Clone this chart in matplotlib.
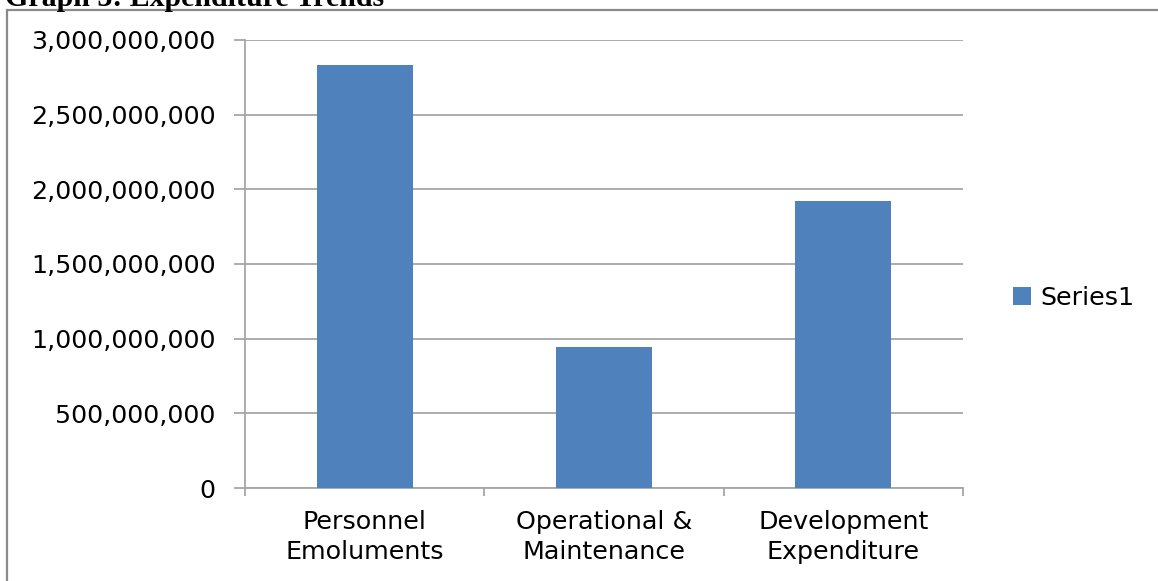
import matplotlib
matplotlib.use("Agg")
import matplotlib.pyplot as plt
from matplotlib.patches import Rectangle
from matplotlib.ticker import FuncFormatter, FixedLocator

categories = ["Personnel\nEmoluments", "Operational &\nMaintenance", "Development\nExpenditure"]
values = [2830000000, 945000000, 1920000000]
series_name = "Series1"
title = "Graph 3: Expenditure Trends"
yticks = [0, 500000000, 1000000000, 1500000000, 2000000000, 2500000000, 3000000000]

W, H = 1158, 581
fig = plt.figure(figsize=(W / 100, H / 100), dpi=100)
fig.patch.set_facecolor("white")

# outer chart border (top and left visible)
fig.patches.append(Rectangle((7 / W, -0.1), 1.2, 1 - 10 / H + 0.1, transform=fig.transFigure,
                             fill=False, edgecolor="#8a8a8a", linewidth=1.6))

fig.text(5 / W, 1 - 6 / H, title, family="Liberation Serif", fontweight="bold",
         fontsize=21.5, va="baseline", ha="left", color="black")

ax = fig.add_axes([245 / W, (H - 488) / H, (963 - 245) / W, (488 - 40) / H])
x = list(range(len(categories)))
bars = ax.bar(x, values, width=0.4, color="#4F81BD", label=series_name, zorder=3)

ax.set_xlim(-0.5, len(categories) - 0.5)
ax.set_ylim(0, 3000000000)
ax.set_yticks(yticks)
ax.yaxis.set_major_formatter(FuncFormatter(lambda v, p: f"{int(v):,}"))
ax.grid(axis="y", color="#a6a6a6", linewidth=1.3, zorder=0)

gcol = "#a6a6a6"
fs = 18.3
for s in ["top", "right"]:
    ax.spines[s].set_visible(False)
for s in ["left", "bottom"]:
    ax.spines[s].set_color(gcol)
    ax.spines[s].set_linewidth(1.3)

ax.tick_params(axis="y", length=8, width=1.3, color=gcol, pad=13,
               labelsize=fs, labelcolor="black")
ax.xaxis.set_major_locator(FixedLocator([i - 0.5 for i in range(len(categories) + 1)]))
ax.xaxis.set_major_formatter(FuncFormatter(lambda v, p: ""))
ax.xaxis.set_minor_locator(FixedLocator(x))
ax.set_xticklabels(categories, minor=True)
ax.tick_params(axis="x", which="major", length=6, width=1.3, color=gcol)
ax.tick_params(axis="x", which="minor", length=0, pad=16, labelsize=fs, labelcolor="black")
for t in ax.get_xticklabels(minor=True):
    t.set_linespacing(1.3)

for t in ax.get_yticklabels() + ax.get_xticklabels(minor=True):
    t.set_family("DejaVu Sans")

leg = fig.legend(handles=[bars], labels=[series_name], loc="center left",
                 bbox_to_anchor=(990 / W, 1 - 298 / H), frameon=False,
                 fontsize=fs, handlelength=0.7, handleheight=0.7, handletextpad=0.4)

fig.savefig("out.png", dpi=100, facecolor="white")
